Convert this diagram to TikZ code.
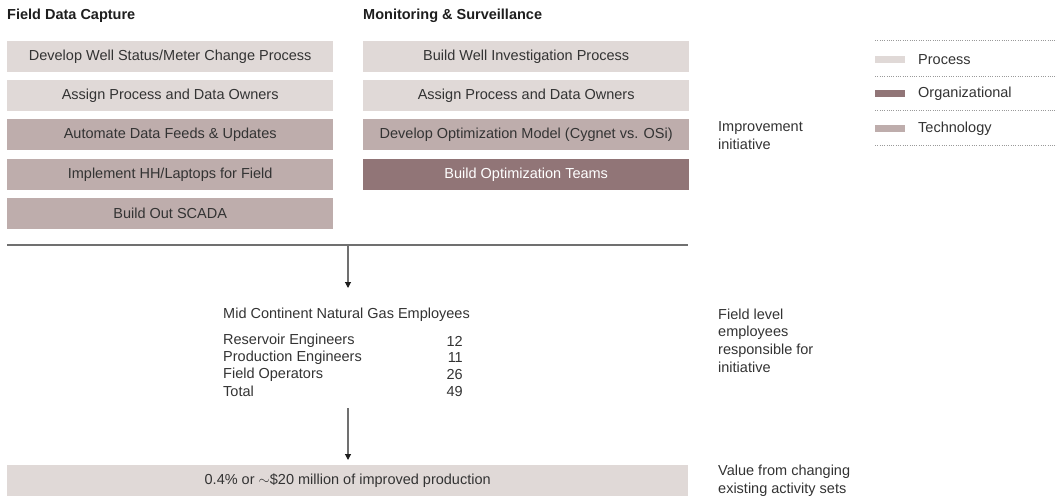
\documentclass[tikz,border=0pt]{standalone}
\usepackage{fontspec}
\setmainfont{Liberation Sans}
\usetikzlibrary{arrows.meta}
\definecolor{proc}{HTML}{E0D9D7}
\definecolor{tech}{HTML}{BEADAC}
\definecolor{org}{HTML}{917577}
\definecolor{txt}{HTML}{333333}
\definecolor{hdr}{HTML}{1E1E1E}
\definecolor{rule}{HTML}{707070}
\definecolor{dotc}{HTML}{9A9A9A}
\begin{document}
\begin{tikzpicture}[x=1pt,y=-1pt,
  every node/.style={font=\fontsize{14.5}{17}\selectfont, text=txt, inner sep=0pt},
  initbox/.style={minimum width=326pt, minimum height=31pt, anchor=north west},
  procbox/.style={initbox, fill=proc},
  techbox/.style={initbox, fill=tech},
  orgbox/.style={initbox, fill=org, text=white},
  header/.style={anchor=west, font=\bfseries\fontsize{14.5}{17}\selectfont, text=hdr},
  sidelabel/.style={anchor=west, align=left, font=\fontsize{14.5}{17.7}\selectfont},
  tabrow/.style={anchor=west},
  tabnum/.style={anchor=east},
  legsw/.style={minimum width=30pt, minimum height=7pt, anchor=west},
  legtxt/.style={anchor=west},
  dotline/.style={dotc, line width=0.7pt, dash pattern=on 0.7pt off 1.6pt},
  flow/.style={rule, line width=1.1pt, -{Triangle[length=6pt,width=6pt,color=hdr]}},
  hrule/.style={rule, line width=1.4pt}]
\useasboundingbox (0,0) rectangle (1057,497);

% headers
\node[header] (h1) at (7,16) {Field Data Capture};
\node[header] (h2) at (363,16) {Monitoring \& Surveillance};

% left column
\node[procbox] (l1) at (7,41) {Develop Well Status/Meter Change Process};
\node[procbox] (l2) at (7,80) {Assign Process and Data Owners};
\node[techbox] (l3) at (7,119) {Automate Data Feeds \& Updates};
\node[techbox] (l4) at (7,159) {Implement HH/Laptops for Field};
\node[techbox] (l5) at (7,198) {Build Out SCADA};

% right column
\node[procbox] (r1) at (363,41) {Build Well Investigation Process};
\node[procbox] (r2) at (363,80) {Assign Process and Data Owners};
\node[techbox] (r3) at (363,119) {Develop Optimization Model (Cygnet vs. OSi)};
\node[orgbox] (r4) at (363,159) {Build Optimization Teams};

% legend
\draw[dotline] (875,40) -- (1057,40);
\draw[dotline] (875,76) -- (1057,76);
\draw[dotline] (875,110) -- (1057,110);
\draw[dotline] (875,145) -- (1057,145);
\node[legsw, fill=proc] (sw1) at (875,60) {};
\node[legtxt] (lg1) at (918,60) {Process};
\node[legsw, fill=org] (sw2) at (875,94) {};
\node[legtxt] (lg2) at (918,94) {Organizational};
\node[legsw, fill=tech] (sw3) at (875,128.5) {};
\node[legtxt] (lg3) at (918,128.5) {Technology};

% side labels
\node[sidelabel] (s1) at (718,135.5) {Improvement\\initiative};
\node[sidelabel] (s2) at (718,340.5) {Field level\\employees\\responsible for\\initiative};
\node[sidelabel] (s3) at (718,480.5) {Value from changing\\existing activity sets};

% horizontal rule and first arrow
\coordinate (hl) at (7,245);
\coordinate (hr) at (688,245);
\coordinate (a1s) at (348,245);
\coordinate (a1e) at (348,288);
\draw[hrule] (hl) -- (hr);
\draw[flow] (a1s) -- (a1e);

% table
\node[tabrow] (tt) at (223,315) {Mid Continent Natural Gas Employees};
\node[tabrow] (t1) at (223,341) {Reservoir Engineers};
\node[tabnum] (n1) at (463,341) {12};
\node[tabrow] (t2) at (223,357.7) {Production Engineers};
\node[tabnum] (n2) at (463,357.7) {11};
\node[tabrow] (t3) at (223,374.4) {Field Operators};
\node[tabnum] (n3) at (463,374.4) {26};
\node[tabrow] (t4) at (223,391.1) {Total};
\node[tabnum] (n4) at (463,391.1) {49};

% second arrow and result box
\node[fill=proc, minimum width=681pt, minimum height=31pt, anchor=north west] (res) at (7,465) {0.4\% or $\sim$\$20 million of improved production};
\coordinate (a2s) at (348,408);
\coordinate (a2e) at (348,460);
\draw[flow] (a2s) -- (a2e);
\end{tikzpicture}
\end{document}
